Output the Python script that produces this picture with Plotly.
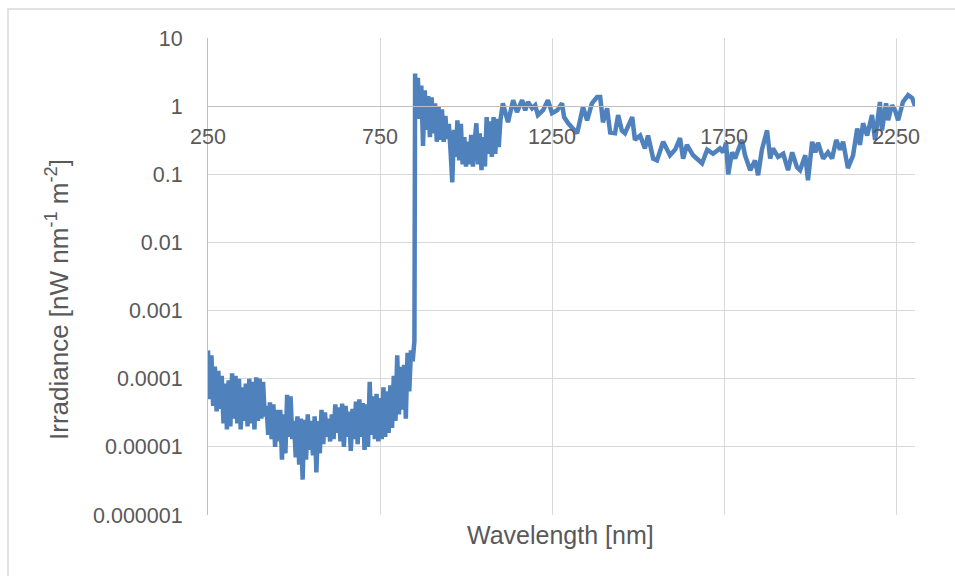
import math
import plotly.graph_objects as go

# ---- data ----
# dense UV/VIS part, 5 nm grid
wl_vis = list(range(250, 851, 5))
irr_vis = [
    2.6e-4, 5.0e-5, 2.2e-4, 4.0e-5, 1.5e-4, 3.3e-5,
    1.3e-4, 3.6e-5, 1.1e-4, 2.2e-5, 8.5e-5, 1.8e-5,
    9.5e-5, 2.0e-5, 1.2e-4, 2.6e-5, 1.1e-4, 2.2e-5,
    1.0e-4, 1.8e-5, 7.5e-5, 2.4e-5, 8.5e-5, 2.0e-5,
    1.0e-4, 2.2e-5, 9.0e-5, 1.8e-5, 1.05e-4, 2.4e-5,
    1.0e-4, 2.6e-5, 9.0e-5, 2.8e-5, 4.0e-5, 1.5e-5,
    4.5e-5, 1.3e-5, 4.2e-5, 1.0e-5, 3.5e-5, 1.2e-5,
    3.5e-5, 6.5e-6, 3.0e-5, 8.0e-6, 5.8e-5, 1.4e-5,
    5.5e-5, 1.3e-5, 2.4e-5, 7.0e-6, 2.8e-5, 5.5e-6,
    2.6e-5, 3.3e-6, 2.5e-5, 6.5e-6, 3.0e-5, 9.0e-6,
    2.4e-5, 7.5e-6, 2.8e-5, 4.2e-6, 2.4e-5, 8.0e-6,
    3.5e-5, 1.1e-5, 3.2e-5, 1.4e-5, 2.6e-5, 1.2e-5,
    3.0e-5, 1.3e-5, 4.2e-5, 1.6e-5, 3.8e-5, 1.2e-5,
    4.3e-5, 1.0e-5, 4.0e-5, 1.4e-5, 3.3e-5, 8.7e-6,
    3.6e-5, 1.3e-5, 4.6e-5, 1.1e-5, 5.0e-5, 1.4e-5,
    4.4e-5, 9.0e-6, 4.2e-5, 1.0e-5, 9.0e-5, 1.5e-5,
    5.5e-5, 1.3e-5, 6.0e-5, 1.2e-5, 5.2e-5, 1.3e-5,
    7.5e-5, 1.4e-5, 6.5e-5, 1.6e-5, 8.0e-5, 1.9e-5,
    1.1e-4, 2.4e-5, 2.2e-4, 3.0e-5, 1.5e-4, 3.5e-5,
    1.6e-4, 2.6e-5, 2.4e-4, 6.5e-5, 2.6e-4, 1.8e-4,
    3.6e-4,
]

# dense NIR part after the jump
wl_nir1 = [852] + list(range(855, 1101, 5))
irr_nir1 = [
    3.0,
    0.75, 2.6, 0.65, 2.0, 0.26, 1.7,
    0.45, 1.4, 0.35, 1.35, 0.40, 1.1,
    0.30, 1.0, 0.32, 0.9, 0.30, 0.72,
    0.33, 0.55, 0.22, 0.076, 0.45, 0.18,
    0.62, 0.16, 0.55, 0.14, 0.35, 0.13,
    0.30, 0.14, 0.38, 0.13, 0.30, 0.56,
    0.14, 0.40, 0.115, 0.35, 0.13, 0.69,
    0.20, 0.60, 0.18, 0.69, 0.20, 0.65,
    0.25, 0.62,
]

# sparser SWIR part
wl_nir2 = [1107, 1122, 1137, 1148, 1163, 1172, 1180, 1192, 1201, 1209,
           1224, 1238, 1250, 1265, 1279, 1285, 1297, 1308, 1323, 1340,
           1352, 1366, 1381, 1390, 1398, 1410, 1419, 1433, 1442, 1453,
           1462, 1483, 1491, 1506, 1520, 1529, 1544, 1555, 1573, 1593,
           1608, 1622, 1631, 1642, 1660, 1686, 1701, 1718, 1738, 1747,
           1756, 1762, 1773, 1782, 1802, 1811, 1826, 1840, 1849, 1860,
           1875, 1884, 1892, 1907, 1922, 1936, 1948, 1962, 1971, 1986,
           1994, 2006, 2015, 2023, 2038, 2052, 2064, 2076, 2087, 2096,
           2110, 2125, 2137, 2145, 2154, 2166, 2180, 2189, 2203, 2209,
           2221, 2227, 2238, 2247, 2256, 2270, 2285, 2297, 2305]
irr_nir2 = [1.1, 0.58, 1.22, 0.82, 1.22, 0.87, 1.15, 0.93, 1.03, 0.74,
            0.87, 1.22, 0.79, 0.87, 1.1, 0.69, 0.56, 0.49, 0.40, 0.97,
            0.62, 1.1, 1.36, 1.36, 0.58, 0.93, 0.41, 0.40, 0.74, 0.44,
            0.40, 0.69, 0.32, 0.37, 0.24, 0.37, 0.17, 0.16, 0.30, 0.19,
            0.23, 0.34, 0.17, 0.27, 0.19, 0.145, 0.23, 0.20, 0.24, 0.21,
            0.29, 0.10, 0.21, 0.17, 0.32, 0.19, 0.115, 0.16, 0.097, 0.23,
            0.44, 0.17, 0.24, 0.18, 0.20, 0.115, 0.21, 0.127, 0.115, 0.19,
            0.082, 0.30, 0.21, 0.29, 0.17, 0.21, 0.17, 0.32, 0.23, 0.30,
            0.123, 0.19, 0.47, 0.27, 0.56, 0.37, 0.74, 0.32, 1.15, 0.44,
            1.1, 0.62, 1.03, 0.87, 0.62, 1.15, 1.45, 1.31, 1.0]

x_ticks = [250, 750, 1250, 1750, 2250]
y_ticks = [1e-6, 1e-5, 1e-4, 1e-3, 1e-2, 1e-1, 1, 10]
y_tick_text = ["0.000001", "0.00001", "0.0001", "0.001", "0.01", "0.1", "1", "10"]

x_title = "Wavelength [nm]"
y_title = "Irradiance [nW nm<sup>-1</sup> m<sup>-2</sup>]"

# ---- figure ----
W, H = 955, 576
L, R, T, B = 208, 40, 38, 61
plot_h = H - T - B
plot_w = W - L - R

FONT = "Liberation Sans"
TXT = "#595959"
GRID = "#d9d9d9"
AXIS = "#bfbfbf"

x_all = wl_vis + wl_nir1 + wl_nir2
y_all = irr_vis + irr_nir1 + irr_nir2

fig = go.Figure()
fig.add_trace(go.Scatter(
    x=x_all, y=y_all, mode="lines",
    line=dict(color="#4f81bd", width=4.5),
    showlegend=False, hoverinfo="skip",
))

# x axis crosses y at 1 -> position in plot fraction
pos_one = (math.log10(1) - (-6)) / (1 - (-6))

fig.update_layout(
    width=W, height=H,
    margin=dict(l=L, r=R, t=T, b=B),
    paper_bgcolor="white", plot_bgcolor="white",
    font=dict(family=FONT, color=TXT, size=21),
    xaxis=dict(
        range=[250, 2305], tickvals=x_ticks,
        showgrid=True, gridcolor=GRID, gridwidth=1,
        zeroline=False, showline=True, linecolor=AXIS, linewidth=1,
        anchor="free", position=pos_one,
        ticks="", ticklabelstandoff=11,
        tickfont=dict(family=FONT, color=TXT, size=21.5),
    ),
    yaxis=dict(
        type="log", range=[-6, 1],
        tickvals=y_ticks, ticktext=y_tick_text,
        showgrid=True, gridcolor=GRID, gridwidth=1,
        zeroline=False, showline=True, linecolor=AXIS, linewidth=1,
        ticks="", ticklabelstandoff=20,
        tickfont=dict(family=FONT, color=TXT, size=21.5),
    ),
    annotations=[
        dict(text=x_title, xref="paper", yref="paper",
             x=(560 - L) / plot_w, y=(H - B - 535) / plot_h,
             xanchor="center", yanchor="middle", showarrow=False,
             font=dict(family=FONT, color=TXT, size=25)),
        dict(text=y_title, xref="paper", yref="paper",
             x=(57 - L) / plot_w, y=(H - B - 300) / plot_h,
             xanchor="center", yanchor="middle", showarrow=False,
             textangle=-90,
             font=dict(family=FONT, color=TXT, size=26)),
    ],
    shapes=[
        dict(type="rect", xref="paper", yref="paper",
             x0=(8 - L) / plot_w, x1=(970 - L) / plot_w,
             y0=(H - B - 590) / plot_h, y1=(H - B - 9) / plot_h,
             line=dict(color=GRID, width=1.5), fillcolor="rgba(0,0,0,0)",
             layer="below"),
    ],
)

fig.write_html("out.html")
